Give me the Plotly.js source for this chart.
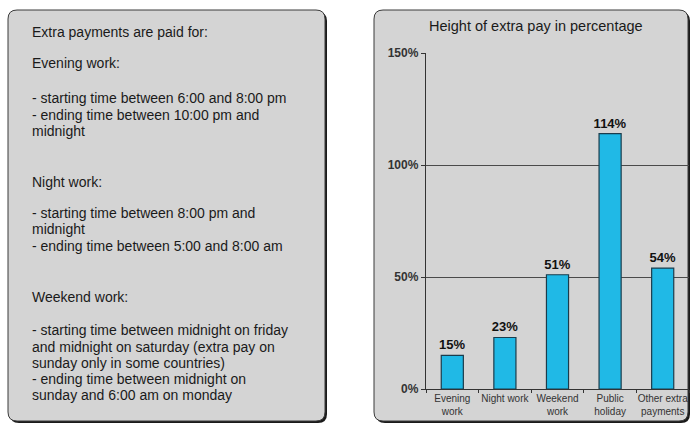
<!DOCTYPE html>
<html><head><meta charset="utf-8">
<script src="https://cdn.plot.ly/plotly-3.0.1.min.js"></script>
<style>html,body{margin:0;padding:0;background:#fff}</style>
</head><body><div id="chart" style="width:690px;height:426px"></div>
<script>
const categories = ["Evening<br>work", "Night work", "Weekend<br>work", "Public<br>holiday", "Other extra<br>payments"];
const values = [15, 23, 51, 114, 54];
const valueLabels = ["15%", "23%", "51%", "114%", "54%"];
const yTicks = [0, 50, 100, 150];
const yTickLabels = ["0%", "50%", "100%", "150%"];
const chartTitle = "Height of extra pay in percentage";
const noteLines = [
  "Extra payments are paid for:",
  "Evening work:",
  "- starting time between 6:00 and 8:00 pm",
  "- ending time between 10:00 pm and",
  "midnight",
  "Night work:",
  "- starting time between 8:00 pm and",
  "midnight",
  "- ending time between 5:00 and 8:00 am",
  "Weekend work:",
  "- starting time between midnight on friday",
  "and midnight on saturday (extra pay on",
  "sunday only in some countries)",
  "- ending time between midnight on",
  "sunday and 6:00 am on monday"
];
const noteLineY = [32, 63, 98, 115, 131, 182, 213, 229, 246, 297, 330, 347, 363, 379, 395];

const W = 690, H = 426;
const px = x => x / W, py = y => 1 - y / H;
function roundRect(x0, y0, x1, y1, r) {
  const p = (x, y) => px(x) + "," + py(y);
  return "M" + p(x0 + r, y0) + " L" + p(x1 - r, y0) + " Q" + p(x1, y0) + " " + p(x1, y0 + r) +
    " L" + p(x1, y1 - r) + " Q" + p(x1, y1) + " " + p(x1 - r, y1) +
    " L" + p(x0 + r, y1) + " Q" + p(x0, y1) + " " + p(x0, y1 - r) +
    " L" + p(x0, y0 + r) + " Q" + p(x0, y0) + " " + p(x0 + r, y0) + " Z";
}
const panelFill = "#d4d4d4";
const FONT = "Liberation Sans, Arial, sans-serif";
const shapes = [];
[[8, 10, 325, 421], [374, 10, 688, 421]].forEach(b => {
  shapes.push({type: "path", xref: "paper", yref: "paper", layer: "below",
    path: roundRect(b[0] + 2, b[1] + 2, b[2] + 2, b[3] + 2, 9), fillcolor: "#1a1a1a", line: {width: 0}});
  shapes.push({type: "path", xref: "paper", yref: "paper", layer: "below",
    path: roundRect(b[0], b[1], b[2], b[3], 9), fillcolor: panelFill, line: {color: "#3a3a3a", width: 1}});
});

const annotations = noteLines.map((t, i) => ({
  text: t, xref: "paper", yref: "paper", x: px(30), y: py(noteLineY[i]),
  xanchor: "left", yanchor: "middle", showarrow: false,
  font: {family: FONT, size: 14, color: "#1a1a1a"}
}));
annotations.push({text: chartTitle, xref: "paper", yref: "paper", x: px(536), y: py(26),
  xanchor: "center", yanchor: "middle", showarrow: false,
  font: {family: FONT, size: 14.5, color: "#1a1a1a"}});

const trace = {
  type: "bar", x: categories, y: values, text: valueLabels, textposition: "outside",
  constraintext: "none", cliponaxis: false, width: 0.42,
  textfont: {family: FONT, size: 13, color: "#111", weight: "bold"},
  marker: {color: "#20b9e6", line: {color: "#1b3c4c", width: 1.2}},
  hoverinfo: "skip"
};

const layout = {
  width: W, height: H, margin: {l: 0, r: 0, t: 0, b: 0},
  paper_bgcolor: "#ffffff", plot_bgcolor: "rgba(0,0,0,0)",
  showlegend: false, shapes: shapes, annotations: annotations,
  xaxis: {domain: [px(426), px(689)], type: "category", range: [-0.5, 4.5], tickangle: 0,
    showline: true, linecolor: "#333", linewidth: 1, ticks: "outside", tickson: "boundaries",
    ticklen: 3, tickcolor: "#333", showgrid: false, fixedrange: true,
    tickfont: {family: FONT, size: 10, color: "#333"}},
  yaxis: {domain: [py(389), py(53)], range: [0, 150], tickvals: yTicks, ticktext: yTickLabels,
    showline: true, linecolor: "#333", linewidth: 1.2, ticks: "outside", ticklen: 4, tickcolor: "#333",
    showgrid: true, gridcolor: "#4a4a4a", gridwidth: 1, zeroline: false, fixedrange: true,
    tickfont: {family: FONT, size: 12, color: "#333", weight: "bold"}}
};
Plotly.newPlot("chart", [trace], layout, {staticPlot: true, displayModeBar: false});
</script></body></html>
